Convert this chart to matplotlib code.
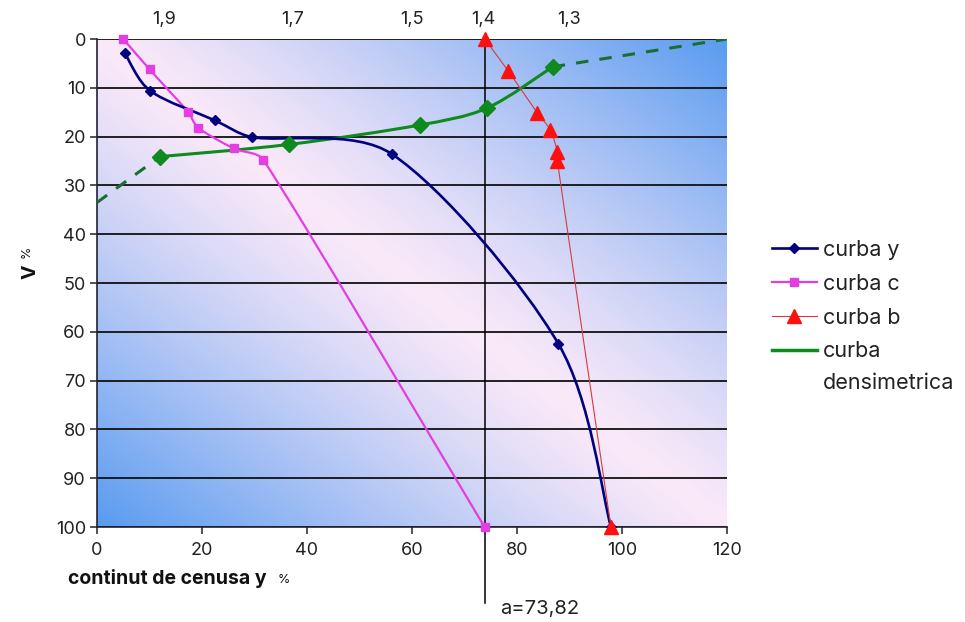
import numpy as np
import matplotlib
matplotlib.use("Agg")
import matplotlib.pyplot as plt
from matplotlib.path import Path
from matplotlib.patches import PathPatch
from matplotlib.lines import Line2D
from matplotlib.legend_handler import HandlerLine2D

plt.rcParams['font.family'] = ['Inter', 'DejaVu Sans']
plt.rcParams['lines.scale_dashes'] = False

# ---- data -------------------------------------------------------------
# curba y : ash content of the float fraction
y_x = [5.3, 10.1, 22.5, 29.5, 56.2, 87.9, 97.9]
y_v = [2.9, 10.6, 16.7, 20.1, 23.6, 62.5, 100.0]

# curba c : ash content of the sink fraction
c_x = [5.0, 10.0, 17.3, 19.3, 26.0, 31.7, 73.82]
c_v = [0.0, 6.2, 14.9, 18.2, 22.4, 24.8, 100.0]

# curba b : elementary ash content
b_x = [73.82, 78.3, 83.9, 86.3, 87.7, 87.7, 97.9]
b_v = [0.0, 6.5, 15.2, 18.6, 23.1, 25.1, 100.0]

# curba densimetrica (measured part + extrapolated ends)
d_x = [12.0, 36.6, 61.6, 74.2, 86.8]
d_v = [24.1, 21.6, 17.6, 14.2, 5.7]
d_left_x = [0.0, 12.0]
d_left_v = [33.5, 24.1]
d_right_x = [86.8, 120.0]
d_right_v = [5.7, 0.0]

# density scale written above the plot
density_labels = ['1,9', '1,7', '1,5', '1,4', '1,3']
density_x = [12.8, 37.3, 60.0, 73.5, 90.0]

a_value = 73.82

x_ticks = [0, 20, 40, 60, 80, 100, 120]
v_ticks = list(range(0, 101, 10))


def smooth_path(xs, ys):
    """Smoothed polyline (cubic Bezier, 1/6 tangent tension, tangents
    limited to a third of the segment so short segments do not loop)."""
    pts = np.column_stack([xs, ys]).astype(float)
    n = len(pts)
    verts = [pts[0]]
    codes = [Path.MOVETO]

    def limit(vec, seg):
        ln = np.hypot(*vec)
        cap = np.hypot(*seg) / 3.0
        return vec * (cap / ln) if ln > cap and ln > 0 else vec

    for i in range(n - 1):
        p0 = pts[i - 1] if i > 0 else pts[i]
        p1 = pts[i]
        p2 = pts[i + 1]
        p3 = pts[i + 2] if i + 2 < n else pts[i + 1]
        seg = p2 - p1
        t1 = limit((p2 - p0) / 6.0, seg)
        t2 = limit((p3 - p1) / 6.0, seg)
        verts += [p1 + t1, p2 - t2, p2]
        codes += [Path.CURVE4] * 3
    return Path(verts, codes)


def add_curve(ax, xs, ys, color, lw, dashes=None, z=3):
    patch = PathPatch(smooth_path(xs, ys), facecolor='none', edgecolor=color,
                      lw=lw, zorder=z, capstyle='butt', joinstyle='round')
    if dashes is not None:
        patch.set_linestyle((0, dashes))
    ax.add_patch(patch)
    return patch


class HandlerLineTop(HandlerLine2D):
    """Legend line raised to the first row of a two-line label."""
    def __init__(self, shift=0.0, **kw):
        super().__init__(**kw)
        self.shift = shift

    def create_artists(self, legend, orig_handle, xdescent, ydescent,
                       width, height, fontsize, trans):
        arts = super().create_artists(legend, orig_handle, xdescent, ydescent,
                                      width, height, fontsize, trans)
        for a in arts:
            yd = np.asarray(a.get_ydata(), dtype=float) + self.shift * fontsize
            a.set_ydata(yd)
        return arts


# ---- figure -----------------------------------------------------------
fig = plt.figure(figsize=(9.65, 6.22), dpi=100)
fig.patch.set_facecolor('white')
ax = fig.add_axes([97 / 965, 1 - 527 / 622, 630 / 965, 488 / 622])

ax.set_xlim(0, 120)
ax.set_ylim(100, 0)

# diagonal pink/blue gradient background
W, H = 480, 400
xn = np.linspace(0, 1, W)[None, :]
yn = np.linspace(0, 1, H)[:, None]
t = np.clip(np.abs(xn - yn), 0, 1) ** 1.2
pink = np.array([250, 233, 249]) / 255.0
blue = np.array([88, 155, 240]) / 255.0
img = pink[None, None, :] + (blue - pink)[None, None, :] * t[..., None]
ax.imshow(img, extent=(0, 120, 100, 0), aspect='auto', origin='upper',
          interpolation='bilinear', zorder=0)

# horizontal grid
ax.set_yticks(v_ticks)
ax.set_xticks(x_ticks)
ax.yaxis.grid(True, color='#111111', lw=1.3, zorder=1)
ax.set_axisbelow(True)
for s in ('top', 'right'):
    ax.spines[s].set_visible(False)
for s in ('left', 'bottom'):
    ax.spines[s].set_color('#222233')
    ax.spines[s].set_linewidth(1.2)
ax.tick_params(axis='both', direction='out', length=5, width=1.1,
               color='#222233', labelsize=13, labelcolor='#222222')
ax.tick_params(axis='x', pad=6)
ax.tick_params(axis='y', pad=3)

# vertical line at the separation ash content a
ax.plot([a_value, a_value], [0, 115.6], color='black', lw=1.1,
        clip_on=False, zorder=2)
ax.text(a_value + 3.0, 116.9, 'a=' + f'{a_value:.2f}'.replace('.', ','),
        fontsize=14.5, ha='left', va='center', color='#222222', clip_on=False)

# density scale
for lab, xv in zip(density_labels, density_x):
    ax.text(xv, -4.0, lab, fontsize=13, ha='center', va='center',
            color='#222222', clip_on=False)

navy = '#000080'
magenta = '#e23ee2'
red = '#ff1010'
redline = '#d83a3a'
green = '#0f8a1f'
dgreen = '#1a6e32'

# curves
add_curve(ax, d_left_x, d_left_v, dgreen, 2.2, dashes=(9, 8), z=3)
add_curve(ax, d_right_x, d_right_v, dgreen, 2.2, dashes=(9, 8), z=3)
add_curve(ax, d_x, d_v, green, 2.2, z=3)
add_curve(ax, c_x, c_v, magenta, 1.6, z=4)
add_curve(ax, y_x, y_v, navy, 1.9, z=5)
add_curve(ax, b_x, b_v, redline, 0.8, z=6)

# markers
ax.plot(d_x, d_v, ls='none', marker='D', ms=8.5, color=green, mec=green, zorder=7)
ax.plot(c_x, c_v, ls='none', marker='s', ms=5.5, color=magenta, mec=magenta,
        zorder=7, clip_on=False)
ax.plot(y_x, y_v, ls='none', marker='D', ms=5.5, color=navy, mec=navy, zorder=8)
ax.plot(b_x, b_v, ls='none', marker='^', ms=9.5, color=red, mec=red, zorder=9,
        clip_on=False)

# labels
fig.text(68 / 965, 1 - 578 / 622, 'continut de cenusa y', fontsize=14,
         fontweight='bold', ha='left', va='center', color='#111111')
fig.text(278 / 965, 1 - 580 / 622, '%', fontsize=9, ha='left', va='center',
         color='#111111')
fig.text(31 / 965, 1 - 272 / 622, 'V', fontsize=14, fontweight='bold',
         rotation=90, ha='center', va='center', color='#111111')
fig.text(27 / 965, 1 - 252 / 622, '%', fontsize=9, rotation=90,
         ha='center', va='center', color='#111111')

# legend
h_y = Line2D([], [], color=navy, lw=1.9, marker='D', ms=5.5)
h_c = Line2D([], [], color=magenta, lw=1.6, marker='s', ms=5.5)
h_b = Line2D([], [], color=redline, lw=0.8, marker='^', ms=9.5, mfc=red, mec=red)
h_d = Line2D([], [], color=green, lw=2.5)
leg = fig.legend([h_y, h_c, h_b, h_d],
                 ['curba y', 'curba c', 'curba b', 'curba\ndensimetrica'],
                 loc='upper left', bbox_to_anchor=(772 / 965, 1 - 240 / 622),
                 frameon=False, fontsize=15.5, handlelength=2.08,
                 handletextpad=0.27, labelspacing=0.64, borderpad=0,
                 borderaxespad=0, numpoints=1,
                 handler_map={h_d: HandlerLineTop(shift=0.82)})
for txt in leg.get_texts():
    txt.set_color('#222222')
    txt.set_linespacing(1.72)

fig.savefig('out.png', dpi=100, facecolor='white')
